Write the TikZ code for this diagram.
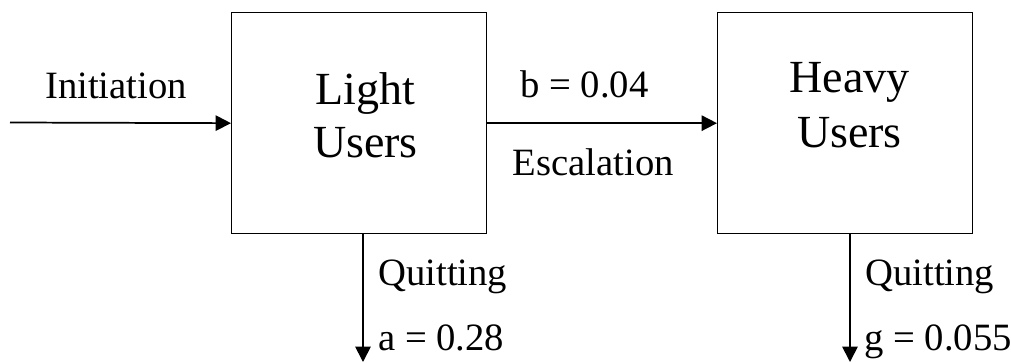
\documentclass[tikz,border=0pt]{standalone}
\usepackage{fontspec}
\setmainfont{Liberation Serif}
\usetikzlibrary{arrows.meta}
\begin{document}
\begin{tikzpicture}[x=0.75pt,y=-0.75pt,
  box/.style={draw, line width=1pt, minimum width=191.25pt, minimum height=165.75pt, inner sep=0pt, anchor=north west},
  conn/.style={line width=1.3pt, -{Triangle[length=11.5pt,width=11.5pt]}},
  lbl/.style={inner sep=0pt, font=\fontsize{29}{35}\selectfont},
  big/.style={inner sep=0pt, font=\fontsize{34.5}{40}\selectfont, anchor=base}]
\useasboundingbox (0,0) rectangle (1011,362);
\node[box] (light) at (231,12) {};
\node[box] (heavy) at (717,12) {};
\node[big] (lt1) at (365.5,104) {Light};
\node[big] (lt2) at (365.5,157) {Users};
\node[big] (ht1) at (849.5,92) {Heavy};
\node[big] (ht2) at (849.5,147) {Users};
\node[lbl, anchor=base] (init) at (116,98) {Initiation};
\node[lbl, anchor=base] (b) at (584.5,97) {b = 0.04};
\node[lbl, anchor=base] (esc) at (593.5,175) {Escalation};
\node[lbl, anchor=base west] (q1) at (378,285) {Quitting};
\node[lbl, anchor=base west] (a) at (378,350) {a = 0.28};
\node[lbl, anchor=base west] (q2) at (865,285) {Quitting};
\node[lbl, anchor=base west] (g) at (864,350) {g = 0.055};
\coordinate (src) at (10,122.5);
\coordinate (qa) at (363,362);
\coordinate (qg) at (850,362);
\draw[conn] (src) -- (light.west);
\draw[conn] (light.east) -- (heavy.west);
\draw[conn] (light.south -| qa) -- (qa);
\draw[conn] (heavy.south -| qg) -- (qg);
\end{tikzpicture}
\end{document}
